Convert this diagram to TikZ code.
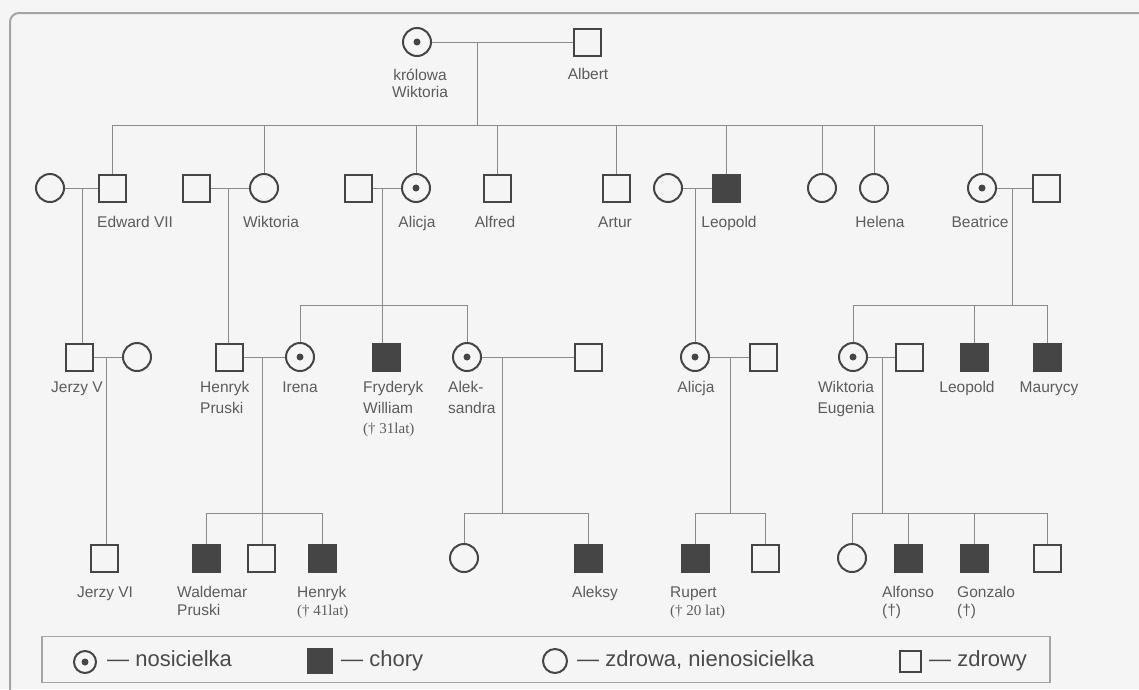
\documentclass[tikz,border=0pt]{standalone}
\usepackage{fontspec}
\setmainfont{Liberation Sans}
\newfontfamily\serifnum{Liberation Serif}
\definecolor{symcol}{HTML}{454545}
\definecolor{linecol}{HTML}{8A8A8A}
\definecolor{txtcol}{HTML}{5C5C5C}
\definecolor{paper}{HTML}{F5F5F5}
\definecolor{framecol}{HTML}{A4A4A4}
\tikzset{
  person/.style={draw=symcol, line width=2pt, inner sep=0pt},
  male/.style={person, rectangle, minimum size=27pt},
  female/.style={person, circle, minimum size=28pt},
  affected/.style={male, fill=symcol},
  carrier/.style={female, path picture={\fill[symcol] (path picture bounding box.center) circle (3.5pt);}},
  link/.style={draw=linecol, line width=1pt},
  lbl/.style={text=txtcol, font=\fontsize{15.5}{18}\selectfont, inner sep=0pt},
  lbls/.style={lbl, font=\serifnum\fontsize{15}{18}\selectfont},
  key/.style={text=txtcol!80!black, font=\fontsize{22}{26}\selectfont, inner sep=0pt, anchor=base west},
}
\begin{document}
\begin{tikzpicture}[x=1pt, y=-1pt]
\useasboundingbox (0,0) rectangle (1139,689);
\fill[paper] (0,0) rectangle (1139,689);
\begin{scope}
\clip (0,0) rectangle (1139,689);
\draw[framecol, line width=2pt, rounded corners=9pt] (10,720) -- (10,13) -- (1160,13);
\end{scope}

% ---------- generation I ----------
\node[carrier] (qv) at (417,42) {};
\node[male] (albert) at (587,42) {};
\node[lbl, anchor=base] (lqv1) at (420,80) {królowa};
\node[lbl, anchor=base] (lqv2) at (420,97) {Wiktoria};
\node[lbl, anchor=base] (lalb) at (588,79) {Albert};

% ---------- generation II ----------
\node[female]   (e7w)  at (50,188)  {};
\node[male]     (e7)   at (112,188) {};
\node[male]     (wh)   at (196,188) {};
\node[female]   (wik)  at (264,188) {};
\node[male]     (ah)   at (358,188) {};
\node[carrier]  (ali)  at (416,188) {};
\node[male]     (alf)  at (497,188) {};
\node[male]     (art)  at (616,188) {};
\node[female]   (lw)   at (668,188) {};
\node[affected] (leo)  at (726,188) {};
\node[female]   (c1)   at (822,188) {};
\node[female]   (hel)  at (874,188) {};
\node[carrier]  (bea)  at (982,188) {};
\node[male]     (bh)   at (1046,188) {};

\node[lbl, anchor=base west] (le7)  at (97,227)  {Edward VII};
\node[lbl, anchor=base] (lwik) at (271,227) {Wiktoria};
\node[lbl, anchor=base] (lali) at (417,227) {Alicja};
\node[lbl, anchor=base] (lalf) at (495,227) {Alfred};
\node[lbl, anchor=base] (lart) at (615,227) {Artur};
\node[lbl, anchor=base] (lleo) at (729,227) {Leopold};
\node[lbl, anchor=base] (lhel) at (880,227) {Helena};
\node[lbl, anchor=base] (lbea) at (980,227) {Beatrice};

% ---------- generation III ----------
\node[male]     (j5)    at (79,357)  {};
\node[female]   (j5w)   at (137,357) {};
\node[male]     (hp)    at (229,357) {};
\node[carrier]  (ire)   at (300,357) {};
\node[affected] (fw)    at (386,357) {};
\node[carrier]  (aleks) at (467,357) {};
\node[male]     (mik)   at (588,357) {};
\node[carrier]  (ali2)  at (695,357) {};
\node[male]     (ali2h) at (763,357) {};
\node[carrier]  (we)    at (853,357) {};
\node[male]     (weh)   at (909,357) {};
\node[affected] (leo2)  at (974,357) {};
\node[affected] (mau)   at (1047,357) {};

\node[lbl, anchor=base] (lj5) at (77,392) {Jerzy V};
\node[lbl, anchor=base west] (lhp1) at (200,392) {Henryk};
\node[lbl, anchor=base west] (lhp2) at (200,413) {Pruski};
\node[lbl, anchor=base] (lire) at (300,392) {Irena};
\node[lbl, anchor=base west] (lfw1) at (363,392) {Fryderyk};
\node[lbl, anchor=base west] (lfw2) at (363,413) {William};
\node[lbls, anchor=base west] (lfw3) at (363,433) {(† 31lat)};
\node[lbl, anchor=base west] (lalk1) at (448,392) {Alek-};
\node[lbl, anchor=base west] (lalk2) at (448,413) {sandra};
\node[lbl, anchor=base] (lali2) at (696,392) {Alicja};
\node[lbl, anchor=base] (lwe1) at (846,392) {Wiktoria};
\node[lbl, anchor=base] (lwe2) at (846,413) {Eugenia};
\node[lbl, anchor=base] (lleo2) at (967,392) {Leopold};
\node[lbl, anchor=base] (lmau) at (1049,392) {Maurycy};

% ---------- generation IV ----------
\node[male]     (j6)   at (104,558) {};
\node[affected] (wp)   at (206,558) {};
\node[male]     (s1)   at (261,558) {};
\node[affected] (hen)  at (322,558) {};
\node[female]   (c2)   at (464,558) {};
\node[affected] (alek) at (588,558) {};
\node[affected] (rup)  at (695,558) {};
\node[male]     (s2)   at (765,558) {};
\node[female]   (c3)   at (852,558) {};
\node[affected] (alfo) at (908,558) {};
\node[affected] (gon)  at (974,558) {};
\node[male]     (s3)   at (1047,558) {};

\node[lbl, anchor=base] (lj6) at (105,597) {Jerzy VI};
\node[lbl, anchor=base west] (lwp1) at (177,597) {Waldemar};
\node[lbl, anchor=base west] (lwp2) at (177,615) {Pruski};
\node[lbl, anchor=base west] (lhen1) at (297,597) {Henryk};
\node[lbls, anchor=base west] (lhen2) at (297,615) {(† 41lat)};
\node[lbl, anchor=base] (lalek) at (595,597) {Aleksy};
\node[lbl, anchor=base west] (lrup1) at (670,597) {Rupert};
\node[lbls, anchor=base west] (lrup2) at (670,615) {(† 20 lat)};
\node[lbl, anchor=base west] (lalfo1) at (882,597) {Alfonso};
\node[lbl, anchor=base west] (lalfo2) at (882,615) {(†)};
\node[lbl, anchor=base west] (lgon1) at (957,597) {Gonzalo};
\node[lbl, anchor=base west] (lgon2) at (957,615) {(†)};

% ---------- connectors ----------
% Victoria & Albert
\coordinate (m1) at (477,42);
\coordinate (b1) at (477,125);
\draw[link] (qv.east) -- (albert.west);
\draw[link] (m1) -- (b1);
\draw[link] (e7 |- b1) -- (bea |- b1);
\foreach \n in {e7,wik,ali,alf,art,leo,c1,hel,bea} \draw[link] (\n |- b1) -- (\n.north);

% marriages of generation II
\coordinate (m2) at (82,188);
\draw[link] (e7w.east) -- (e7.west);
\draw[link] (m2) -- (m2 |- j5.north);
\coordinate (m3) at (228,188);
\draw[link] (wh.east) -- (wik.west);
\draw[link] (m3) -- (m3 |- hp.north);
\coordinate (m4) at (382,188);
\coordinate (b4) at (382,305);
\draw[link] (ah.east) -- (ali.west);
\draw[link] (m4) -- (m4 |- fw.north);
\draw[link] (ire |- b4) -- (aleks |- b4);
\foreach \n in {ire,aleks} \draw[link] (\n |- b4) -- (\n.north);
\coordinate (m5) at (695,188);
\draw[link] (lw.east) -- (leo.west);
\draw[link] (m5) -- (ali2.north);
\coordinate (m6) at (1012,188);
\coordinate (b6) at (1012,305);
\draw[link] (bea.east) -- (bh.west);
\draw[link] (m6) -- (b6);
\draw[link] (we |- b6) -- (mau |- b6);
\foreach \n in {we,leo2,mau} \draw[link] (\n |- b6) -- (\n.north);

% marriages of generation III
\coordinate (m7) at (106,357);
\draw[link] (j5.east) -- (j5w.west);
\draw[link] (m7) -- (m7 |- j6.north);
\coordinate (m8) at (262,357);
\coordinate (b8) at (262,513);
\draw[link] (hp.east) -- (ire.west);
\draw[link] (m8) -- (m8 |- s1.north);
\draw[link] (wp |- b8) -- (hen |- b8);
\foreach \n in {wp,hen} \draw[link] (\n |- b8) -- (\n.north);
\coordinate (m9) at (502,357);
\coordinate (b9) at (502,513);
\draw[link] (aleks.east) -- (mik.west);
\draw[link] (m9) -- (b9);
\draw[link] (c2 |- b9) -- (alek |- b9);
\foreach \n in {c2,alek} \draw[link] (\n |- b9) -- (\n.north);
\coordinate (m10) at (730,357);
\coordinate (b10) at (730,513);
\draw[link] (ali2.east) -- (ali2h.west);
\draw[link] (m10) -- (b10);
\draw[link] (rup |- b10) -- (s2 |- b10);
\foreach \n in {rup,s2} \draw[link] (\n |- b10) -- (\n.north);
\coordinate (m11) at (882,357);
\coordinate (b11) at (882,513);
\draw[link] (we.east) -- (weh.west);
\draw[link] (m11) -- (b11);
\draw[link] (c3 |- b11) -- (s3 |- b11);
\foreach \n in {c3,alfo,gon,s3} \draw[link] (\n |- b11) -- (\n.north);

% ---------- key ----------
\node[draw=framecol, line width=1.5pt, minimum width=1008pt, minimum height=46pt, inner sep=0pt] (keybox) at (546,659.5) {};
\node[carrier, minimum size=22pt] (k1) at (85,662) {};
\node[key] (k1t) at (107,666) {— nosicielka};
\node[affected, minimum size=24pt] (k2) at (320,661) {};
\node[key] (k2t) at (341,666) {— chory};
\node[female, minimum size=24pt] (k3) at (555,661) {};
\node[key] (k3t) at (577,666) {— zdrowa, nienosicielka};
\node[male, minimum size=21pt] (k4) at (910,661) {};
\node[key] (k4t) at (929,666) {— zdrowy};
\end{tikzpicture}
\end{document}
